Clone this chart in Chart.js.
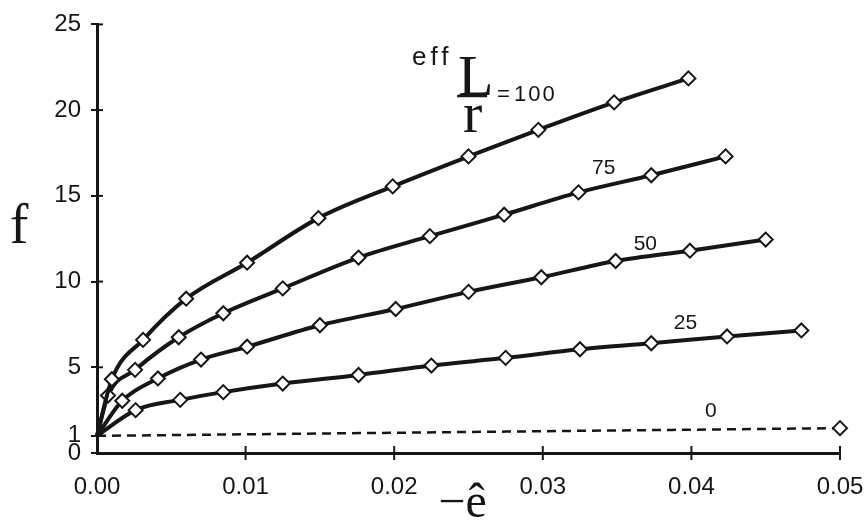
<!DOCTYPE html>
<html>
<head>
<meta charset="utf-8">
<title>f vs -e</title>
<script src="https://cdn.jsdelivr.net/npm/chart.js@4/dist/chart.umd.min.js"></script>
<style>
  html, body { margin: 0; padding: 0; background: #fff; }
  canvas { display: block; }
</style>
</head>
<body>
<canvas id="lineChart" width="868" height="521"></canvas>
<script>
// values: x = -e^, y = f
var e100 = [0, 0.0010, 0.0031, 0.0060, 0.0101, 0.0149, 0.0199, 0.0250, 0.0297, 0.0348, 0.0398];
var f100 = [1, 4.3, 6.6, 9.0, 11.1, 13.7, 15.55, 17.3, 18.85, 20.45, 21.85];
var e75 = [0, 0.00074, 0.00256, 0.0055, 0.0085, 0.0125, 0.0176, 0.0224, 0.0274, 0.0324, 0.0373, 0.0423];
var f75 = [1, 3.35, 4.85, 6.75, 8.15, 9.6, 11.4, 12.65, 13.9, 15.2, 16.2, 17.3];
var e50 = [0, 0.0017, 0.0041, 0.0070, 0.0101, 0.0150, 0.0201, 0.0250, 0.0299, 0.0349, 0.0399, 0.0450];
var f50 = [1, 3.05, 4.35, 5.45, 6.2, 7.45, 8.4, 9.4, 10.25, 11.2, 11.8, 12.45];
var e25 = [0, 0.0026, 0.0056, 0.0085, 0.0125, 0.0176, 0.0225, 0.0275, 0.0325, 0.0373, 0.0424, 0.0474];
var f25 = [1, 2.5, 3.1, 3.55, 4.05, 4.55, 5.1, 5.55, 6.05, 6.4, 6.8, 7.15];
var e0 = [0, 0.05];
var f0 = [1, 1.45];

var yTicks = [0, 1, 5, 10, 15, 20, 25];
var seriesNames = ['100', '75', '50', '25', '0'];

var ink = '#161616';

function pts(xs, ys) {
	return xs.map(function(x, i) { return { x: x, y: ys[i] }; });
}

// curve labels, placed in data units
var curveLabels = [
	{ text: '75', x: 0.0341, y: 16.6 },
	{ text: '50', x: 0.0369, y: 12.2 },
	{ text: '25', x: 0.0396, y: 7.6 },
	{ text: '0', x: 0.0413, y: 2.45 }
];

var extras = {
	id: 'extras',
	afterDraw: function(chart) {
		var c = chart.ctx;
		var xs = chart.scales.x, ys = chart.scales.y;
		var a = chart.chartArea;
		c.save();
		c.strokeStyle = ink;
		c.lineWidth = 2;
		// tick marks crossing the axes
		xs.ticks.forEach(function(t) {
			if (t.value === 0) return;
			var px = xs.getPixelForValue(t.value);
			c.beginPath(); c.moveTo(px, a.bottom + 7); c.lineTo(px, a.bottom - 7); c.stroke();
		});
		ys.ticks.forEach(function(t) {
			if (t.value === 0) return;
			var py = ys.getPixelForValue(t.value);
			c.beginPath(); c.moveTo(a.left, py); c.lineTo(a.left + 6, py); c.stroke();
		});

		c.fillStyle = ink;
		c.textBaseline = 'middle';
		c.textAlign = 'center';
		c.font = '21px "Liberation Sans", Arial, sans-serif';
		curveLabels.forEach(function(l) {
			c.fillText(l.text, xs.getPixelForValue(l.x), ys.getPixelForValue(l.y));
		});

		// eff L / r = 100 label
		var lx = xs.getPixelForValue(0.0243);
		var ly = ys.getPixelForValue(21.0);
		c.textAlign = 'left';
		c.textBaseline = 'alphabetic';
		c.font = '26px "Liberation Sans", Arial, sans-serif';
		c.letterSpacing = '4px';
		c.fillText('eff', lx - 46, ly - 28);
		c.letterSpacing = '0px';
		c.font = '58px "Liberation Serif", "Times New Roman", serif';
		c.fillText('L', lx, ly + 2);
		c.fillText('r', lx + 5, ly + 39);
		c.lineWidth = 2.5;
		c.beginPath(); c.moveTo(lx - 1, ly + 3); c.lineTo(lx + 29, ly + 3); c.stroke();
		c.font = '22px "Liberation Sans", Arial, sans-serif';
		c.fillText('=', lx + 39, ly + 8);
		c.letterSpacing = '2px';
		c.fillText('100', lx + 56, ly + 8);
		c.letterSpacing = '0px';

		// axis titles
		c.textAlign = 'center';
		c.font = '56px "Liberation Serif", "Times New Roman", serif';
		c.fillText('f', a.left - 78, ys.getPixelForValue(13.3) + 18);
		c.font = '48px "Liberation Serif", "Times New Roman", serif';
		c.fillText('\u2212\u00ea', xs.getPixelForValue(0.0246), a.bottom + 64);
		c.restore();
	}
};

var lineChart;
var handleRenderChart = function() {
	Chart.defaults.font.family = '"Liberation Sans", Arial, sans-serif';
	Chart.defaults.color = ink;

	var solid = function(xs, ys, name) {
		return {
			label: name,
			data: pts(xs, ys),
			clip: false,
			borderColor: ink,
			borderWidth: 4,
			cubicInterpolationMode: 'monotone',
			pointStyle: 'rectRot',
			pointRadius: function(ctx) { return ctx.raw && ctx.raw.x === 0 ? 0 : 7; },
			pointBackgroundColor: '#fff',
			pointBorderColor: ink,
			pointBorderWidth: 2
		};
	};

	var dashed = solid(e0, f0, seriesNames[4]);
	dashed.borderWidth = 2.5;
	dashed.borderDash = [9, 6];

	lineChart = new Chart(document.getElementById('lineChart'), {
		type: 'line',
		data: {
			datasets: [
				solid(e100, f100, seriesNames[0]),
				solid(e75, f75, seriesNames[1]),
				solid(e50, f50, seriesNames[2]),
				solid(e25, f25, seriesNames[3]),
				dashed
			]
		},
		options: {
			responsive: false,
			animation: false,
			layout: { padding: { left: 0, top: 19, right: 28, bottom: 0 } },
			plugins: { legend: { display: false }, tooltip: { enabled: false } },
			scales: {
				x: {
					type: 'linear',
					min: 0,
					max: 0.05,
					grid: { drawOnChartArea: false, drawTicks: true, tickLength: 17, tickColor: 'rgba(0,0,0,0)' },
					border: { display: true, color: ink, width: 3 },
					ticks: {
						stepSize: 0.01,
						padding: 3,
						maxRotation: 0,
						font: { size: 24 },
						callback: function(v) { return v.toFixed(2); }
					},
					afterFit: function(s) { s.height = 68; }
				},
				y: {
					type: 'linear',
					min: 0,
					max: 25,
					grid: { drawOnChartArea: false, drawTicks: true, tickLength: 6, color: ink, lineWidth: 2 },
					border: { display: true, color: ink, width: 3 },
					ticks: { padding: 10, font: { size: 24 } },
					afterBuildTicks: function(s) {
						s.ticks = yTicks.map(function(v) { return { value: v }; });
					},
					afterFit: function(s) { s.width = 97; }
				}
			}
		},
		plugins: [extras]
	});
};

handleRenderChart();
</script>
</body>
</html>
